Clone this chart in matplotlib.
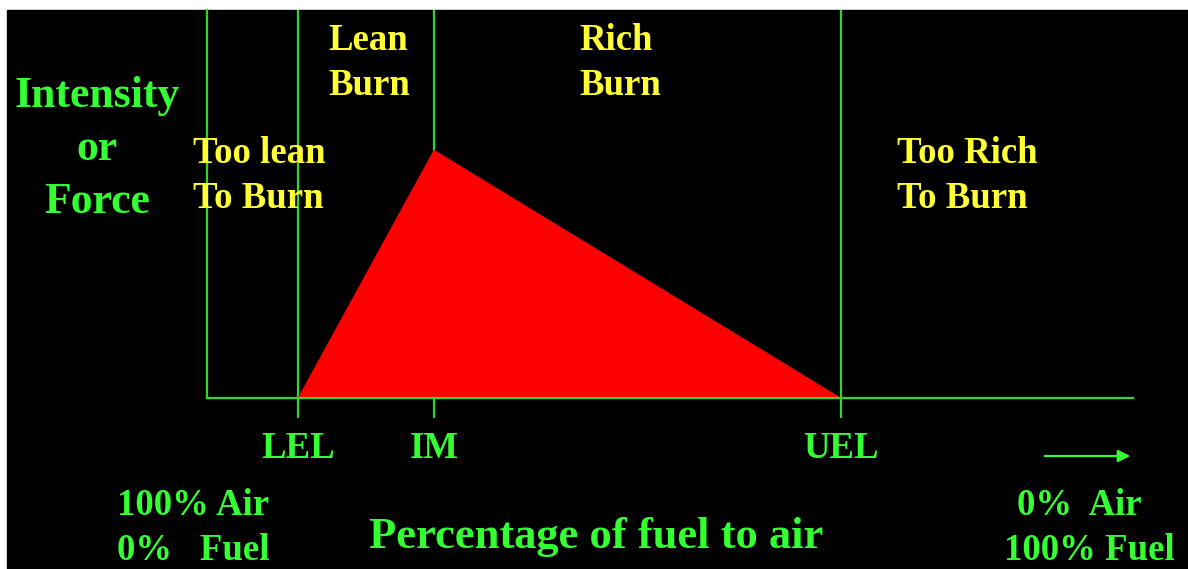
import matplotlib.pyplot as plt
from matplotlib.patches import Rectangle

# positions along the fuel/air axis (0-100) and peak intensity (0-100)
limit_names = ['LEL', 'IM', 'UEL']
limit_pos = [9.8, 24.5, 68.5]
peak_intensity = 64

green = '#33ff33'
line_green = '#2fd82f'
yellow = '#ffff33'
W, H = 1188, 569

plt.rcParams['font.family'] = ['Liberation Serif', 'DejaVu Serif']
plt.rcParams['font.weight'] = 'bold'

fig = plt.figure(figsize=(W / 100, H / 100), dpi=100, facecolor='white')
# black slide area (white strip top and left)
fig.patches.append(Rectangle((7 / W, 0), 1 - 7 / W, (H - 10) / H,
                             transform=fig.transFigure, color='black', zorder=-5))

ax = fig.add_axes([207 / W, 1 - 398 / H, (1133 - 207) / W, (398 - 10) / H])
ax.set_facecolor('none')
ax.set_xlim(0, 100)
ax.set_ylim(0, 100)

for s in ['top', 'right']:
    ax.spines[s].set_visible(False)
for s in ['left', 'bottom']:
    ax.spines[s].set_color(line_green)
    ax.spines[s].set_linewidth(1.6)

# boundary lines
lel, im, uel = limit_pos
ax.axvline(lel, color=line_green, lw=1.6, zorder=1)
ax.axvline(uel, color=line_green, lw=1.6, zorder=1)
ax.axvline(im, color=line_green, lw=1.6, zorder=1)

# flammability triangle
ax.fill([lel, im, uel], [0, peak_intensity, 0], color='#ff0000', zorder=2, lw=0)

ax.set_yticks([])
ax.set_xticks(limit_pos)
ax.set_xticklabels(limit_names, color=green, fontsize=26.5, fontweight='bold')
ax.tick_params(axis='x', direction='out', length=14.4, width=1.6,
               color=line_green, pad=9)


def txt(x, y, s, c, size, ha='left'):
    fig.text(x / W, 1 - y / H, s, color=c, fontsize=size, fontweight='bold',
             ha=ha, va='baseline')


# y label
txt(97, 107, 'Intensity', green, 31.5, 'center')
txt(97, 160, 'or', green, 31.5, 'center')
txt(97, 213, 'Force', green, 31.5, 'center')

# regions
txt(328, 50, 'Lean', yellow, 26.5)
txt(328, 95, 'Burn', yellow, 26.5)
txt(579, 50, 'Rich', yellow, 26.5)
txt(579, 95, 'Burn', yellow, 26.5)
txt(193, 163, 'Too lean', yellow, 26.5)
txt(193, 208, 'To Burn', yellow, 26.5)
txt(897, 163, 'Too Rich', yellow, 26.5)
txt(897, 208, 'To Burn', yellow, 26.5)

# bottom labels
txt(117, 515, '100% Air', green, 26.5)
txt(117, 560, '0%   Fuel', green, 26.5)
txt(1017, 515, '0%  Air', green, 26.5)
txt(1004, 560, '100% Fuel', green, 26.5)
txt(596, 548, 'Percentage of fuel to air', green, 32, 'center')

# direction arrow
ax.annotate('', xy=(1133 / W, 1 - 456 / H), xytext=(1042 / W, 1 - 456 / H),
            xycoords='figure fraction', textcoords='figure fraction',
            arrowprops=dict(arrowstyle='-|>', color=green, lw=1.6,
                            mutation_scale=18))

fig.savefig('out.png', dpi=100, facecolor=fig.get_facecolor())
